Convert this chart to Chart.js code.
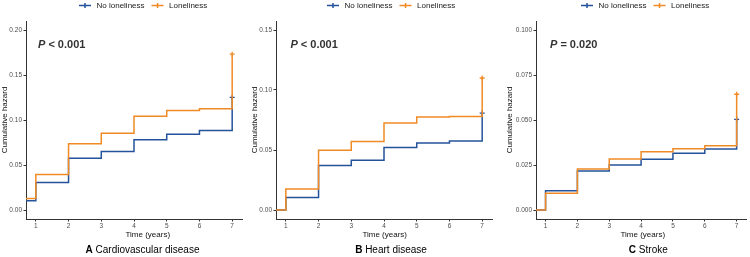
<!DOCTYPE html>
<html>
<head>
<meta charset="utf-8">
<script src="https://cdn.jsdelivr.net/npm/chart.js@4.4.0/dist/chart.umd.min.js"></script>
<style>
html,body{margin:0;padding:0;background:#fff;}
#wrap{position:relative;width:750px;height:257px;overflow:hidden;background:#fff;}
.panel{position:absolute;top:0;width:250px;height:257px;}
canvas{display:block;}
</style>
</head>
<body>
<div id="wrap">
  <div class="panel" style="left:0px"><canvas id="cA" width="250" height="257" style="width:250px;height:257px"></canvas></div>
  <div class="panel" style="left:250px"><canvas id="cB" width="250" height="257" style="width:250px;height:257px"></canvas></div>
  <div class="panel" style="left:500px"><canvas id="cC" width="250" height="257" style="width:250px;height:257px"></canvas></div>
</div>
<script>
// ---------- data ----------
const times = [0, 1, 2, 3, 4, 5, 6, 7];
const xTicks = [1, 2, 3, 4, 5, 6, 7];
const seriesNames = ['No loneliness', 'Loneliness'];

const cvdNo      = [0.0103, 0.0306, 0.0575, 0.0649, 0.0781, 0.0843, 0.0884, 0.1252];
const cvdLonely  = [0.0129, 0.0394, 0.0737, 0.0854, 0.1042, 0.1105, 0.1124, 0.1731];
const heartNo     = [0.0000, 0.0105, 0.0371, 0.0415, 0.0520, 0.0559, 0.0576, 0.0808];
const heartLonely = [0.0000, 0.0174, 0.0498, 0.0570, 0.0725, 0.0775, 0.0780, 0.1100];
const strokeNo     = [0.0000, 0.0107, 0.0217, 0.0250, 0.0282, 0.0315, 0.0339, 0.0504];
const strokeLonely = [0.0000, 0.0093, 0.0228, 0.0283, 0.0324, 0.0340, 0.0357, 0.0643];

const cvdYTicks    = ['0.00', '0.05', '0.10', '0.15', '0.20'];
const heartYTicks  = ['0.00', '0.05', '0.10', '0.15'];
const strokeYTicks = ['0.000', '0.025', '0.050', '0.075', '0.100'];

const panelLetters = ['A', 'B', 'C'];
const panelNames = ['Cardiovascular disease', 'Heart disease', 'Stroke'];
const pValues = ['< 0.001', '< 0.001', '= 0.020'];
const xTitle = 'Time (years)';
const yTitle = 'Cumulative hazard';

// ---------- styles ----------
const colors = ['#24539B', '#F08A24'];
const FONT = '"Liberation Sans", Arial, Helvetica, sans-serif';

const annot = {
  id: 'annot',
  afterDraw(chart, args, o) {
    const ctx = chart.ctx;
    const ca = chart.chartArea;
    ctx.save();
    // legend
    let x = o.legendLeft;
    const ly = 5.5;
    ctx.textBaseline = 'middle';
    ctx.textAlign = 'left';
    seriesNames.forEach((name, i) => {
      ctx.strokeStyle = colors[i];
      ctx.lineWidth = 1.5;
      ctx.beginPath();
      ctx.moveTo(x, ly); ctx.lineTo(x + 12, ly);
      ctx.moveTo(x + 6, ly - 2.6); ctx.lineTo(x + 6, ly + 2.6);
      ctx.stroke();
      x += 17.5;
      ctx.font = '8px ' + FONT;
      ctx.fillStyle = '#1a1a1a';
      ctx.fillText(name, x, ly);
      x += ctx.measureText(name).width + 7;
    });
    // P value
    let px = ca.left + o.pX;
    const py = 44.5;
    ctx.fillStyle = '#333333';
    ctx.font = 'italic bold 11px ' + FONT;
    ctx.fillText('P', px, py);
    px += ctx.measureText('P').width;
    ctx.font = 'bold 11px ' + FONT;
    ctx.fillText(' ' + o.p, px, py);
    // x axis title
    ctx.font = '8px ' + FONT;
    ctx.textAlign = 'center';
    ctx.fillStyle = '#111';
    ctx.fillText(xTitle, o.xTitleCenter, 234.3);
    // panel title
    ctx.font = 'bold 10px ' + FONT;
    const wL = ctx.measureText(o.letter + ' ').width;
    ctx.font = '10px ' + FONT;
    const wN = ctx.measureText(o.name).width;
    let tx = o.titleCenter - (wL + wN) / 2;
    ctx.textAlign = 'left';
    ctx.fillStyle = '#000';
    ctx.font = 'bold 10px ' + FONT;
    ctx.fillText(o.letter + ' ', tx, 250.5);
    ctx.font = '10px ' + FONT;
    ctx.fillText(o.name, tx + wL, 250.5);
    ctx.restore();
  }
};

function makeChart(id, idx, no, lonely, yTickLabels, lay) {
  const yt = yTickLabels.map(Number);
  const ySpan = yt[yt.length - 1] - yt[0];
  const xSpan = xTicks[xTicks.length - 1] - xTicks[0];
  const series = [no, lonely];
  const axisColor = '#333333';
  return new Chart(document.getElementById(id), {
    type: 'line',
    data: {
      datasets: series.map((vals, i) => ({
        label: seriesNames[i],
        data: times.map((t, k) => ({ x: t, y: vals[k] })),
        borderColor: colors[i],
        backgroundColor: colors[i],
        borderWidth: 1.5,
        stepped: true,
        tension: 0,
        fill: false,
        order: i === 0 ? 2 : 1,
        pointStyle: 'cross',
        pointRadius: c => (c.dataIndex === times.length - 1 ? 2.5 : 0),
        pointBorderColor: colors[i],
        pointBorderWidth: 1.3,
        pointHoverRadius: 0,
        pointHitRadius: 0
      }))
    },
    options: {
      responsive: false,
      animation: false,
      devicePixelRatio: 1,
      events: [],
      layout: { padding: { top: 21, right: lay.padRight, bottom: 0, left: 0 } },
      plugins: {
        legend: { display: false },
        tooltip: { enabled: false },
        annot: {
          legendLeft: lay.legendLeft, pX: lay.pX, p: pValues[idx],
          xTitleCenter: lay.xTitleCenter, titleCenter: lay.titleCenter,
          letter: panelLetters[idx], name: panelNames[idx]
        }
      },
      scales: {
        x: {
          type: 'linear',
          min: xTicks[0] - 0.05 * xSpan,
          max: xTicks[xTicks.length - 1] + 0.05 * xSpan,
          afterFit: s => { s.height = 38; },
          afterBuildTicks: s => { s.ticks = xTicks.map(v => ({ value: v })); },
          ticks: {
            autoSkip: false, maxRotation: 0, padding: 0.5,
            color: '#4d4d4d',
            font: { size: 6.5, family: FONT },
            callback: (v, i) => String(xTicks[i])
          },
          grid: { display: true, drawOnChartArea: false, drawTicks: true, tickLength: 2.5, color: axisColor, lineWidth: 1 },
          border: { display: true, color: axisColor, width: 1 },
          title: { display: false }
        },
        y: {
          type: 'linear',
          min: yt[0] - 0.05 * ySpan,
          max: yt[yt.length - 1] + 0.05 * ySpan,
          afterFit: s => { s.width = lay.yWidth; },
          afterBuildTicks: s => { s.ticks = yt.map(v => ({ value: v })); },
          ticks: {
            autoSkip: false, padding: 1.5,
            color: '#4d4d4d',
            font: { size: 6.5, family: FONT },
            callback: (v, i) => yTickLabels[i]
          },
          grid: { display: true, drawOnChartArea: false, drawTicks: true, tickLength: 2.5, color: axisColor, lineWidth: 1 },
          border: { display: true, color: axisColor, width: 1 },
          title: {
            display: true, text: yTitle, color: '#111',
            font: { size: 8, family: FONT },
            padding: { top: lay.yTitlePad, bottom: 0 }
          }
        }
      }
    },
    plugins: [annot]
  });
}

makeChart('cA', 0, cvdNo, cvdLonely, cvdYTicks,
  { yWidth: 26, padRight: 8, yTitlePad: 0, pX: 12, legendLeft: 79, titleCenter: 142.5, xTitleCenter: 147.8 });
makeChart('cB', 1, heartNo, heartLonely, heartYTicks,
  { yWidth: 26, padRight: 8, yTitlePad: 0, pX: 14.4, legendLeft: 77, titleCenter: 141, xTitleCenter: 134.7 });
makeChart('cC', 2, strokeNo, strokeLonely, strokeYTicks,
  { yWidth: 36, padRight: 2, yTitlePad: 5, pX: 14, legendLeft: 81, titleCenter: 148.3, xTitleCenter: 142.8 });
</script>
</body>
</html>
